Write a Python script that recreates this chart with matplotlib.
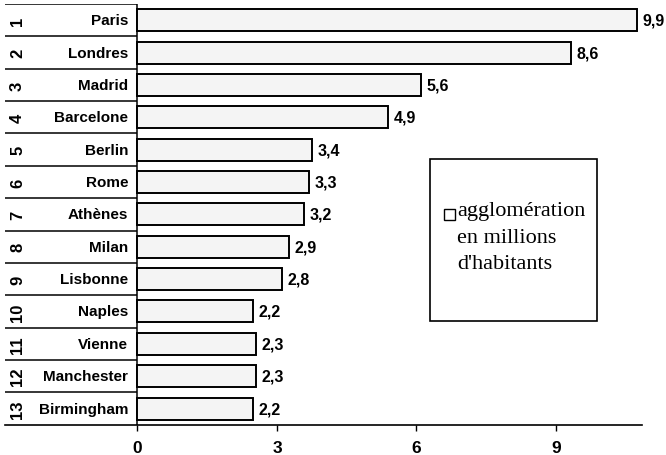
import numpy as np
import matplotlib
matplotlib.use("Agg")
import matplotlib.pyplot as plt
from matplotlib.patches import Rectangle


# =========================
# 1. Data
# =========================

ranks = ["1", "2", "3", "4", "5", "6", "7", "8", "9", "10", "11", "12", "13"]

cities = [
    "Paris", "Londres", "Madrid", "Barcelone", "Berlin", "Rome", "Athènes",
    "Milan", "Lisbonne", "Naples", "Vienne", "Manchester", "Birmingham"
]

# bar lengths as drawn on the printed axis
bar_len = [10.74, 9.32, 6.10, 5.39, 3.75, 3.69, 3.58, 3.26, 3.11, 2.48, 2.55, 2.55, 2.48]

# printed value labels
value_labels = ["9,9", "8,6", "5,6", "4,9", "3,4", "3,3", "3,2",
                "2,9", "2,8", "2,2", "2,3", "2,3", "2,2"]

tick_values = [0, 3, 6, 9]
legend_text = "agglomération\nen millions\nd'habitants"


# =========================
# 2. Figure
# =========================

W, H = 666, 456
fig = plt.figure(figsize=(W / 100, H / 100), dpi=100)
ax = fig.add_axes([5 / W, (H - 425.7) / H, (642 - 5) / W, (425.7 - 5) / H])

x_left = (5 - 137.5) / 46.5
x_right = (642 - 137.5) / 46.5
ax.set_xlim(x_left, x_right)
ax.set_ylim(len(cities) - 0.5, -0.5)

sans = ["Liberation Sans", "DejaVu Sans"]
serif = ["Liberation Serif", "DejaVu Serif"]

y = np.arange(len(cities))
ax.barh(y, bar_len, height=0.68, left=0, color="#f4f4f4",
        edgecolor="black", linewidth=1.4, zorder=3)

for i in range(len(cities)):
    ax.text(bar_len[i] + 0.12, y[i], value_labels[i], ha="left", va="center",
            fontsize=11.5, fontweight="bold", family=sans)
    ax.text(-0.2, y[i], cities[i], ha="right", va="center",
            fontsize=11, fontweight="bold", family=sans)
    ax.text(x_left + 0.27, y[i], ranks[i], ha="center", va="center",
            rotation=90, fontsize=12, fontweight="bold", family=sans)


# =========================
# 3. Table lines
# =========================

for i in range(len(cities)):
    ax.plot([x_left, 0], [i - 0.5, i - 0.5], color="black", lw=1.1,
            solid_capstyle="butt", zorder=2)
ax.plot([0, 0], [-0.5, len(cities) - 0.5], color="black", lw=1.1, zorder=2)

for s in ["top", "right", "left"]:
    ax.spines[s].set_visible(False)
ax.spines["bottom"].set_linewidth(1.2)

ax.set_yticks([])
ax.set_xticks(tick_values)
ax.set_xticklabels([str(t) for t in tick_values], fontsize=12.5,
                   fontweight="bold", family=sans)
ax.tick_params(axis="x", direction="out", length=4, width=1, pad=7)


# =========================
# 4. Legend box
# =========================

fig.patches.append(Rectangle((430 / W, (H - 322) / H), 167 / W, 162 / H,
                             transform=fig.transFigure, fill=False,
                             edgecolor="black", linewidth=1.2))
fig.patches.append(Rectangle((444 / W, (H - 221) / H), 11 / W, 11 / H,
                             transform=fig.transFigure, fill=False,
                             edgecolor="black", linewidth=1.0))
fig.text(457 / W, (H - 202) / H, legend_text, ha="left", va="top",
         fontsize=16, family=serif, linespacing=1.55)

plt.savefig("out.png", dpi=100)
